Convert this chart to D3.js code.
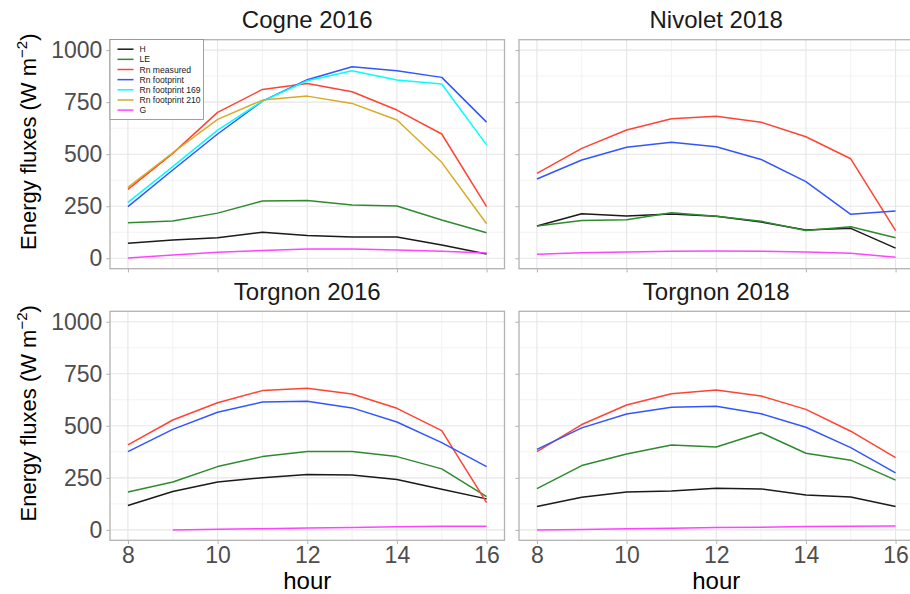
<!DOCTYPE html>
<html><head><meta charset="utf-8">
<script src="https://cdn.jsdelivr.net/npm/d3@7"></script>
<style>body{margin:0;background:#fff} svg{display:block;font-family:"Liberation Sans",Arial,sans-serif}</style>
</head><body><svg id="c" width="910" height="594"></svg>
<script>
const hours = [8, 9, 10, 11, 12, 13, 14, 15, 16];
const xTicks = [8, 10, 12, 14, 16];
const xMinor = [9, 11, 13, 15];
const yTicks = [0, 250, 500, 750, 1000];
const yMinor = [125, 375, 625, 875];
const panelTitles = ["Cogne 2016", "Nivolet 2018", "Torgnon 2016", "Torgnon 2018"];
const seriesNames = ["H", "LE", "Rn measured", "Rn footprint", "Rn footprint 169", "Rn footprint 210", "G"];
const seriesColors = ["#1a1a1a", "#2f8a2f", "#ff4433", "#3355ff", "#00ffff", "#d9aa22", "#ff44ff"];

// Cogne 2016
const cogne16_H   = [72, 88, 99, 125, 110, 102, 102, 64, 21];
const cogne16_LE  = [171, 179, 217, 275, 278, 256, 251, 184, 123];
const cogne16_Rn  = [331, 504, 701, 811, 840, 800, 712, 597, 248];
const cogne16_Rnf = [248, 424, 597, 755, 858, 920, 901, 869, 654];
const cogne16_Rnf169 = [269, 440, 616, 755, 853, 901, 856, 837, 545];
const cogne16_Rnf210 = [341, 507, 667, 760, 779, 744, 664, 461, 166];
const cogne16_G   = [1, 16, 29, 38, 45, 45, 40, 34, 25];
// Nivolet 2018
const nivolet18_H   = [155, 214, 203, 213, 202, 174, 136, 144, 49];
const nivolet18_LE  = [155, 181, 185, 219, 202, 178, 134, 152, 99];
const nivolet18_Rn  = [408, 528, 616, 670, 682, 654, 584, 478, 133];
const nivolet18_Rnf = [381, 472, 533, 557, 536, 475, 368, 211, 227];
const nivolet18_G   = [19, 27, 30, 34, 35, 34, 30, 24, 5];
// Torgnon 2016
const torgnon16_H   = [117, 184, 230, 251, 266, 264, 242, 195, 149];
const torgnon16_LE  = [182, 230, 304, 352, 376, 376, 352, 293, 160];
const torgnon16_Rn  = [408, 528, 611, 669, 680, 653, 584, 477, 131];
const torgnon16_Rnf = [376, 483, 565, 614, 618, 586, 518, 419, 304];
const torgnon16_G   = [null, 0, 3, 6, 9, 12, 15, 17, 18];
// Torgnon 2018
const torgnon18_H   = [112, 157, 182, 187, 200, 197, 168, 158, 112];
const torgnon18_LE  = [198, 309, 365, 408, 398, 467, 368, 335, 239];
const torgnon18_Rn  = [376, 506, 600, 654, 672, 643, 579, 474, 347];
const torgnon18_Rnf = [387, 490, 557, 589, 594, 558, 493, 395, 274];
const torgnon18_G   = [0, 2, 5, 8, 11, 13, 16, 18, 19];

const panels = [
  {H: cogne16_H, LE: cogne16_LE, "Rn measured": cogne16_Rn, "Rn footprint": cogne16_Rnf,
   "Rn footprint 169": cogne16_Rnf169, "Rn footprint 210": cogne16_Rnf210, G: cogne16_G},
  {H: nivolet18_H, LE: nivolet18_LE, "Rn measured": nivolet18_Rn, "Rn footprint": nivolet18_Rnf, G: nivolet18_G},
  {H: torgnon16_H, LE: torgnon16_LE, "Rn measured": torgnon16_Rn, "Rn footprint": torgnon16_Rnf, G: torgnon16_G},
  {H: torgnon18_H, LE: torgnon18_LE, "Rn measured": torgnon18_Rn, "Rn footprint": torgnon18_Rnf, G: torgnon18_G}
];

const svg = d3.select("#c");
const PW = 394.5, PH = 229;
const lefts = [110, 519], tops = [39.7, 311.3];
const tickCol = "#b3b3b3";

panels.forEach((pd, i) => {
  const col = i % 2, row = Math.floor(i / 2);
  const L = lefts[col], T = tops[row];
  const x = d3.scaleLinear().domain([7.6, 16.4]).range([L, L + PW]);
  const y = d3.scaleLinear().domain([-50, 1050]).range([T + PH, T]);
  const g = svg.append("g");

  // grid minor
  g.selectAll(".gxm").data(xMinor).join("line")
    .attr("x1", d => x(d)).attr("x2", d => x(d)).attr("y1", T).attr("y2", T + PH)
    .attr("stroke", "#f2f2f2").attr("stroke-width", 1);
  g.selectAll(".gym").data(yMinor).join("line")
    .attr("y1", d => y(d)).attr("y2", d => y(d)).attr("x1", L).attr("x2", L + PW)
    .attr("stroke", "#f2f2f2").attr("stroke-width", 1);
  // grid major
  g.selectAll(".gx").data(xTicks).join("line")
    .attr("x1", d => x(d)).attr("x2", d => x(d)).attr("y1", T).attr("y2", T + PH)
    .attr("stroke", "#e6e6e6").attr("stroke-width", 1.1);
  g.selectAll(".gy").data(yTicks).join("line")
    .attr("y1", d => y(d)).attr("y2", d => y(d)).attr("x1", L).attr("x2", L + PW)
    .attr("stroke", "#e6e6e6").attr("stroke-width", 1.1);

  // lines
  seriesNames.forEach((name, k) => {
    const vals = pd[name];
    if (!vals) return;
    const pts = hours.map((h, j) => [h, vals[j]]);
    const line = d3.line().defined(d => d[1] !== null).x(d => x(d[0])).y(d => y(d[1]));
    g.append("path").attr("d", line(pts)).attr("fill", "none")
      .attr("stroke", seriesColors[k]).attr("stroke-width", 1.5).attr("stroke-linejoin", "round");
  });

  // border
  g.append("rect").attr("x", L).attr("y", T).attr("width", PW).attr("height", PH)
    .attr("fill", "none").attr("stroke", tickCol).attr("stroke-width", 1.3);

  // axes
  const ya = d3.axisLeft(y).tickValues(yTicks).tickSize(3.7).tickPadding(4)
    .tickFormat(d => col === 0 ? d : "");
  const yg = g.append("g").attr("transform", `translate(${L},0)`).call(ya);
  yg.select(".domain").remove();
  yg.selectAll(".tick line").attr("stroke", tickCol);
  yg.selectAll(".tick text").attr("fill", "#4d4d4d").style("font-size", "23px")
    .style("font-family", "'Liberation Sans', Arial, sans-serif");

  const xa = d3.axisBottom(x).tickValues(xTicks).tickSize(3.7).tickPadding(3)
    .tickFormat(d => row === 1 ? d : "");
  const xg = g.append("g").attr("transform", `translate(0,${T + PH})`).call(xa);
  xg.select(".domain").remove();
  xg.selectAll(".tick line").attr("stroke", tickCol);
  xg.selectAll(".tick text").attr("fill", "#4d4d4d").style("font-size", "23px")
    .style("font-family", "'Liberation Sans', Arial, sans-serif");

  // title
  svg.append("text").attr("x", L + PW / 2).attr("y", T - 11.5).attr("text-anchor", "middle")
    .style("font-size", "24px").attr("fill", "#1a1a1a").text(panelTitles[i]);

  if (row === 1) {
    svg.append("text").attr("x", L + PW / 2).attr("y", 589).attr("text-anchor", "middle")
      .style("font-size", "24px").attr("fill", "#000").text("hour");
  }
  if (col === 0) {
    const t = svg.append("text").attr("transform", `translate(36,${T + PH / 2 - 12.5}) rotate(-90)`)
      .attr("text-anchor", "middle").style("font-size", "22px").attr("fill", "#000");
    t.append("tspan").text("Energy fluxes (W m");
    t.append("tspan").attr("dy", -9).style("font-size", "15px").text("\u22122");
    t.append("tspan").attr("dy", 9).text(")");
  }
});

// legend
const lg = svg.append("g");
lg.append("rect").attr("x", 110).attr("y", 39.5).attr("width", 93.5).attr("height", 80)
  .attr("fill", "#fff").attr("stroke", "#888").attr("stroke-width", 0.8);
seriesNames.forEach((name, k) => {
  const yy = 49.2 + k * 10.15;
  lg.append("line").attr("x1", 117.5).attr("x2", 133.5).attr("y1", yy).attr("y2", yy)
    .attr("stroke", seriesColors[k]).attr("stroke-width", 1.5);
  lg.append("text").attr("x", 139.5).attr("y", yy + 3).style("font-size", "8.6px")
    .attr("fill", "#1a1a1a").text(name);
});
</script></body></html>
